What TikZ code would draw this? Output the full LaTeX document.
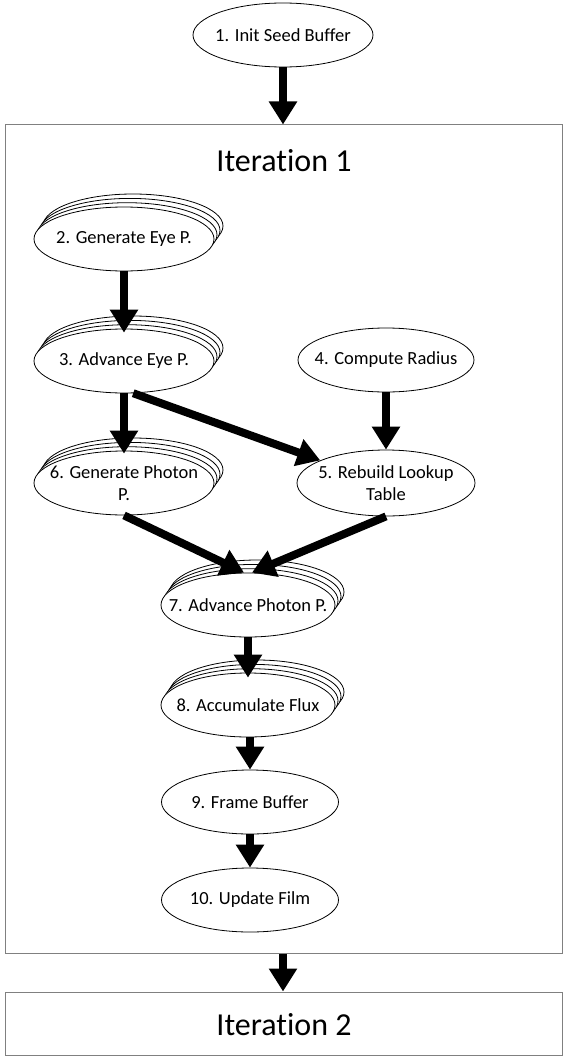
\documentclass[tikz,border=0pt]{standalone}
\usepackage{fontspec}
\setmainfont{Carlito}[Ligatures=NoCommon]
\usetikzlibrary{arrows.meta, shapes.geometric, shadows, calc}
\tikzset{
    task/.style={draw, ellipse, line width=0.8pt, fill=white, minimum width=180pt, minimum height=64pt, inner xsep=-30pt, inner ysep=-10pt, align=center, font=\fontsize{18.5}{21.5}\selectfont},
    stackcopy/.style={draw=black, fill=white, line width=0.8pt},
    stacktask/.style={task,
        copy shadow={shadow xshift=9pt, shadow yshift=13pt, stackcopy},
        copy shadow={shadow xshift=6pt, shadow yshift=8.6pt, stackcopy},
        copy shadow={shadow xshift=3pt, shadow yshift=4.3pt, stackcopy}},
    iterbox/.style={draw=black!50, line width=1pt, rectangle, minimum width=557pt, inner sep=0pt},
    itertitle/.style={font=\fontsize{32}{38}\selectfont},
    flow/.style={-{Triangle[width=27pt, length=23pt]}, line width=8pt},
}
\begin{document}
\begin{tikzpicture}[x=1pt, y=-1pt]
    \useasboundingbox (0,0) rectangle (567,1062);

    % Iteration boxes
    \node[iterbox, minimum height=828pt] (iter1) at (283.5, 539) {};
    \node[itertitle] (title1) at (284, 161) {Iteration 1};
    \node[iterbox, minimum height=63pt] (iter2) at (283.5, 1023.5) {};
    \node[itertitle] (title2) at (284, 1025) {Iteration 2};

    % Tasks
    \node[task] (seed) at (283, 35) {1. Init Seed Buffer};
    \node[stacktask] (geneye) at (124, 239) {2. Generate Eye P.};
    \node[stacktask] (adveye) at (124, 361) {3. Advance Eye P.};
    \node[task, minimum width=176pt] (radius) at (386, 360) {4. Compute Radius};
    \node[task, minimum width=178pt, minimum height=66pt] (lookup) at (386, 483) {5. Rebuild Lookup\\Table};
    \node[stacktask] (genphot) at (124, 483) {6. Generate Photon\\P.};
    \node[stacktask, minimum width=174pt] (advphot) at (248, 605) {7. Advance Photon P.};
    \node[stacktask, minimum width=174pt] (flux) at (248, 705) {8. Accumulate Flux};
    \node[task, minimum width=177pt] (frame) at (250, 802) {9. Frame Buffer};
    \node[task, minimum width=177pt] (film) at (250, 900) {10. Update Film};

    % Arrows
    \draw[flow] (seed.south) -- (iter1.north -| seed.south);
    \draw[flow, shorten >=-4pt] (geneye) -- (adveye);
    \draw[flow, shorten >=-3pt] (adveye) -- (genphot);
    \draw[flow] (adveye.-74) -- (lookup.161);
    \draw[flow] (radius) -- (lookup);
    \draw[flow] (genphot.south) -- ([xshift=-4pt]advphot.north);
    \draw[flow] (lookup.south) -- ([xshift=4pt]advphot.north);
    \draw[flow, shorten >=-5pt] (advphot) -- (flux);
    \draw[flow] (flux.south -| frame.north) -- (frame.north);
    \draw[flow] (frame) -- (film);
    \draw[flow] (iter1.south -| seed.south) -- (iter2.north -| seed.south);
\end{tikzpicture}
\end{document}
